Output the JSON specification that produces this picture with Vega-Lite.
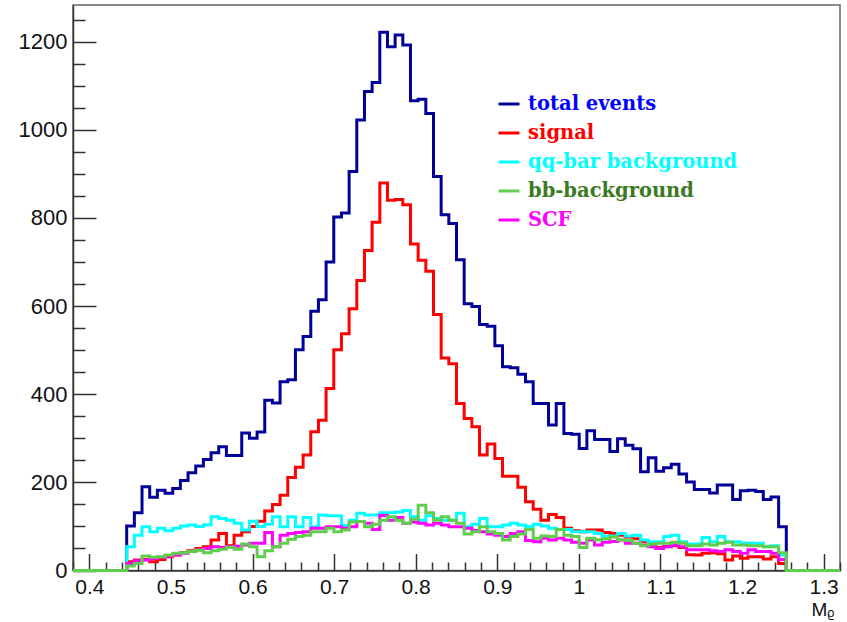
{
"$schema": "https://vega.github.io/schema/vega-lite/v6.json",
"width": 767,
"height": 565.5,
"autosize": "none",
"padding": {"left": 73, "top": 5, "right": 7, "bottom": 51.5},
"background": "white",
"config": {"view": {"stroke": "#666666", "strokeWidth": 1.5}},
"datasets": {"h": [
{"x":0.38,"t":0,"s":0,"q":0,"b":0,"m":0},
{"x":0.4458,"t":101,"s":20,"q":54,"b":10,"m":16},
{"x":0.4552,"t":131,"s":24,"q":80,"b":16,"m":22},
{"x":0.4646,"t":190,"s":25,"q":99,"b":33,"m":24},
{"x":0.474,"t":166,"s":20,"q":88,"b":30,"m":27},
{"x":0.4834,"t":182,"s":25,"q":96,"b":31,"m":30},
{"x":0.4928,"t":175,"s":31,"q":90,"b":35,"m":33},
{"x":0.5022,"t":186,"s":35,"q":96,"b":39,"m":36},
{"x":0.5116,"t":204,"s":41,"q":101,"b":40,"m":39},
{"x":0.521,"t":222,"s":45,"q":103,"b":43,"m":43},
{"x":0.5304,"t":237,"s":50,"q":100,"b":46,"m":47},
{"x":0.5398,"t":252,"s":54,"q":104,"b":40,"m":50},
{"x":0.5492,"t":267,"s":69,"q":122,"b":45,"m":54},
{"x":0.5586,"t":281,"s":84,"q":118,"b":48,"m":52},
{"x":0.568,"t":261,"s":56,"q":114,"b":53,"m":54},
{"x":0.5774,"t":261,"s":80,"q":107,"b":48,"m":55},
{"x":0.5868,"t":312,"s":88,"q":92,"b":60,"m":58},
{"x":0.5962,"t":300,"s":100,"q":112,"b":54,"m":62},
{"x":0.6056,"t":314,"s":112,"q":100,"b":31,"m":62},
{"x":0.615,"t":386,"s":135,"q":105,"b":45,"m":86},
{"x":0.6244,"t":380,"s":150,"q":122,"b":54,"m":54},
{"x":0.6338,"t":428,"s":171,"q":99,"b":62,"m":80},
{"x":0.6432,"t":433,"s":211,"q":122,"b":71,"m":84},
{"x":0.6526,"t":501,"s":234,"q":99,"b":77,"m":86},
{"x":0.662,"t":531,"s":262,"q":120,"b":80,"m":88},
{"x":0.6714,"t":588,"s":315,"q":99,"b":88,"m":96},
{"x":0.6808,"t":614,"s":341,"q":126,"b":88,"m":96},
{"x":0.6902,"t":700,"s":413,"q":124,"b":96,"m":99},
{"x":0.6996,"t":802,"s":501,"q":124,"b":88,"m":99},
{"x":0.709,"t":811,"s":537,"q":102,"b":92,"m":96},
{"x":0.7184,"t":905,"s":594,"q":114,"b":110,"m":99},
{"x":0.7278,"t":1022,"s":658,"q":130,"b":111,"m":111},
{"x":0.7372,"t":1087,"s":726,"q":126,"b":99,"m":107},
{"x":0.7466,"t":1107,"s":790,"q":126,"b":105,"m":93},
{"x":0.756,"t":1221,"s":879,"q":131,"b":114,"m":125},
{"x":0.7654,"t":1188,"s":840,"q":131,"b":122,"m":114},
{"x":0.7748,"t":1215,"s":842,"q":133,"b":114,"m":120},
{"x":0.7842,"t":1192,"s":830,"q":136,"b":107,"m":107},
{"x":0.7936,"t":1066,"s":741,"q":122,"b":116,"m":110},
{"x":0.803,"t":1069,"s":704,"q":114,"b":148,"m":107},
{"x":0.8124,"t":1037,"s":679,"q":124,"b":131,"m":103},
{"x":0.8218,"t":894,"s":581,"q":118,"b":114,"m":107},
{"x":0.8312,"t":807,"s":482,"q":114,"b":122,"m":103},
{"x":0.8406,"t":787,"s":469,"q":114,"b":114,"m":99},
{"x":0.85,"t":705,"s":379,"q":130,"b":107,"m":99},
{"x":0.8594,"t":605,"s":345,"q":99,"b":83,"m":96},
{"x":0.8688,"t":599,"s":326,"q":105,"b":88,"m":91},
{"x":0.8782,"t":558,"s":262,"q":118,"b":99,"m":88},
{"x":0.8876,"t":554,"s":287,"q":99,"b":88,"m":83},
{"x":0.897,"t":510,"s":254,"q":99,"b":84,"m":80},
{"x":0.9064,"t":462,"s":214,"q":103,"b":69,"m":77},
{"x":0.9158,"t":460,"s":214,"q":107,"b":77,"m":84},
{"x":0.9252,"t":445,"s":189,"q":103,"b":83,"m":88},
{"x":0.9346,"t":428,"s":156,"q":99,"b":93,"m":68},
{"x":0.944,"t":379,"s":139,"q":105,"b":73,"m":65},
{"x":0.9534,"t":379,"s":114,"q":101,"b":78,"m":73},
{"x":0.9628,"t":330,"s":127,"q":96,"b":77,"m":69},
{"x":0.9722,"t":379,"s":120,"q":93,"b":93,"m":73},
{"x":0.9816,"t":311,"s":96,"q":93,"b":80,"m":69},
{"x":0.991,"t":309,"s":90,"q":88,"b":77,"m":64},
{"x":1.0004,"t":277,"s":88,"q":88,"b":52,"m":62},
{"x":1.0098,"t":317,"s":92,"q":88,"b":73,"m":69},
{"x":1.0192,"t":297,"s":92,"q":84,"b":70,"m":58},
{"x":1.0286,"t":297,"s":86,"q":78,"b":72,"m":64},
{"x":1.038,"t":270,"s":84,"q":78,"b":76,"m":66},
{"x":1.0474,"t":299,"s":80,"q":84,"b":70,"m":69},
{"x":1.0568,"t":284,"s":76,"q":78,"b":68,"m":62},
{"x":1.0662,"t":276,"s":72,"q":80,"b":62,"m":62},
{"x":1.0756,"t":224,"s":66,"q":69,"b":56,"m":58},
{"x":1.085,"t":256,"s":60,"q":65,"b":60,"m":54},
{"x":1.0944,"t":225,"s":52,"q":65,"b":62,"m":50},
{"x":1.1038,"t":233,"s":55,"q":77,"b":62,"m":54},
{"x":1.1132,"t":241,"s":56,"q":80,"b":64,"m":58},
{"x":1.1226,"t":219,"s":52,"q":65,"b":62,"m":54},
{"x":1.132,"t":201,"s":36,"q":60,"b":56,"m":47},
{"x":1.1414,"t":184,"s":35,"q":60,"b":56,"m":47},
{"x":1.1508,"t":184,"s":39,"q":75,"b":60,"m":47},
{"x":1.1602,"t":176,"s":40,"q":65,"b":58,"m":45},
{"x":1.1696,"t":194,"s":38,"q":77,"b":62,"m":43},
{"x":1.179,"t":194,"s":24,"q":65,"b":64,"m":47},
{"x":1.1884,"t":161,"s":33,"q":65,"b":58,"m":43},
{"x":1.1978,"t":181,"s":28,"q":62,"b":58,"m":39},
{"x":1.2072,"t":182,"s":31,"q":62,"b":56,"m":47},
{"x":1.2166,"t":179,"s":31,"q":62,"b":56,"m":43},
{"x":1.226,"t":161,"s":26,"q":54,"b":54,"m":43},
{"x":1.2354,"t":167,"s":31,"q":56,"b":54,"m":39},
{"x":1.2448,"t":99,"s":16,"q":35,"b":40,"m":25},
{"x":1.2542,"t":0,"s":0,"q":0,"b":0,"m":0},
{"x":1.32,"t":0,"s":0,"q":0,"b":0,"m":0}
]},
"data": {"name": "h"},
"resolve": {"axis": {"x": "independent", "y": "independent"}},
"layer": [
{
 "mark": {"type": "line", "interpolate": "step-after", "strokeWidth": 3},
 "encoding": {
  "x": {"field": "x", "type": "quantitative", "scale": {"domain": [0.38, 1.32], "nice": false, "zero": false},
   "axis": {"orient": "bottom", "values": [0.4,0.5,0.6,0.7,0.8,0.9,1,1.1,1.2,1.3], "format": "~g", "grid": false,
    "tickSize": -17, "tickColor": "#333333", "tickWidth": 1.5, "domainColor": "#333333", "domainWidth": 1.5,
    "labelFont": "Liberation Sans", "labelFontSize": 21, "labelColor": "#111111", "labelPadding": 23,
    "title": "Mᵨ", "titleFont": "Liberation Sans", "titleFontSize": 19, "titleFontWeight": "normal", "titleColor": "#111111",
    "titleAnchor": "end", "titleAlign": "right", "titleBaseline": "alphabetic", "titleX": 761, "titleY": 45}},
  "y": {"field": "t", "type": "quantitative", "scale": {"domain": [0, 1283], "nice": false},
   "axis": {"orient": "left", "values": [0,200,400,600,800,1000,1200], "format": "d", "grid": false,
    "tickSize": -23, "tickColor": "#333333", "tickWidth": 1.5, "domainColor": "#333333", "domainWidth": 1.5,
    "labelFont": "Liberation Sans", "labelFontSize": 22, "labelColor": "#111111", "labelPadding": 29, "title": null}},
  "color": {"datum": "total events", "type": "nominal",
   "scale": {"domain": ["total events", "signal", "qq-bar background", "bb-background", "SCF"],
             "range": ["#000099", "#ff0000", "#00ffff", "#5fce4c", "#ff00ff"]},
   "legend": {"orient": "none", "legendX": 424, "legendY": 87, "title": null, "symbolType": "stroke", "symbolSize": 441,
    "symbolStrokeWidth": 3, "labelFont": "DejaVu Serif", "labelFontWeight": "bold", "labelFontSize": 19.5, "labelOffset": 7,
    "rowPadding": 7, "padding": 0, "labelLimit": 400,
    "encode": {
     "labels": {"update": {"fill": [
       {"test": "datum.value === 'total events'", "value": "#0000ff"},
       {"test": "datum.value === 'signal'", "value": "#ff0000"},
       {"test": "datum.value === 'qq-bar background'", "value": "#00ffff"},
       {"test": "datum.value === 'bb-background'", "value": "#3b7a22"},
       {"value": "#ff00ff"}]}},
     "symbols": {"update": {"stroke": [
       {"test": "datum.value === 'total events'", "value": "#0000ff"},
       {"test": "datum.value === 'signal'", "value": "#ff0000"},
       {"test": "datum.value === 'qq-bar background'", "value": "#00ffff"},
       {"test": "datum.value === 'bb-background'", "value": "#3b7a22"},
       {"value": "#ff00ff"}]}}}}}
 }
},
{
 "mark": {"type": "line", "interpolate": "step-after", "strokeWidth": 3},
 "encoding": {
  "x": {"field": "x", "type": "quantitative", "axis": null},
  "y": {"field": "s", "type": "quantitative", "axis": null},
  "color": {"datum": "signal", "type": "nominal"}
 }
},
{
 "mark": {"type": "line", "interpolate": "step-after", "strokeWidth": 3},
 "encoding": {
  "x": {"field": "x", "type": "quantitative", "axis": null},
  "y": {"field": "q", "type": "quantitative", "axis": null},
  "color": {"datum": "qq-bar background", "type": "nominal"}
 }
},
{
 "mark": {"type": "line", "interpolate": "step-after", "strokeWidth": 3},
 "encoding": {
  "x": {"field": "x", "type": "quantitative", "axis": null},
  "y": {"field": "m", "type": "quantitative", "axis": null},
  "color": {"datum": "SCF", "type": "nominal"}
 }
},
{
 "mark": {"type": "line", "interpolate": "step-after", "strokeWidth": 3},
 "encoding": {
  "x": {"field": "x", "type": "quantitative", "axis": null},
  "y": {"field": "b", "type": "quantitative", "axis": null},
  "color": {"datum": "bb-background", "type": "nominal"}
 }
},
{
 "mark": {"type": "point", "opacity": 0},
 "encoding": {
  "x": {"field": "x", "type": "quantitative",
   "axis": {"orient": "bottom", "values": [0.38,0.42,0.44,0.46,0.48,0.52,0.54,0.56,0.58,0.62,0.64,0.66,0.68,0.72,0.74,0.76,0.78,0.82,0.84,0.86,0.88,0.92,0.94,0.96,0.98,1.02,1.04,1.06,1.08,1.12,1.14,1.16,1.18,1.22,1.24,1.26,1.28,1.32],
    "labels": false, "domain": false, "grid": false, "title": null, "tickSize": -8.5, "tickColor": "#333333", "tickWidth": 1.5}},
  "y": {"field": "t", "type": "quantitative",
   "axis": {"orient": "left", "values": [50,100,150,250,300,350,450,500,550,650,700,750,850,900,950,1050,1100,1150,1250],
    "labels": false, "domain": false, "grid": false, "title": null, "tickSize": -12, "tickColor": "#333333", "tickWidth": 1.5}}
 }
}
]
}
